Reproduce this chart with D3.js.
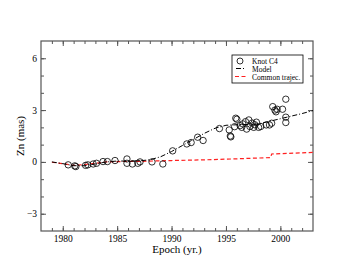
<!DOCTYPE html>
<html>
<head>
<meta charset="utf-8">
<script src="https://cdn.jsdelivr.net/npm/d3@7"></script>
<style>
  body { margin: 0; background: #fff; }
  svg text { font-family: "Liberation Serif", "DejaVu Serif", serif; }
</style>
</head>
<body>
<div id="chart"></div>
<script>
// Knot C4 observations (epoch, Zn in mas)
var knotYears = [1980.5, 1981.1, 1981.2, 1982.1, 1982.3, 1982.8, 1983.1, 1983.7, 1984.1, 1984.8,
  1985.9, 1985.9, 1986.4, 1986.9, 1987.1, 1988.2, 1989.2, 1990.1, 1991.4, 1991.8,
  1992.4, 1992.9, 1994.4, 1995.3, 1995.4, 1995.45, 1995.8, 1995.9, 1996.0, 1996.3,
  1996.45, 1996.55, 1996.8, 1996.9, 1997.1, 1997.2, 1997.4, 1997.55, 1997.65, 1997.8,
  1998.0, 1998.2, 1998.7, 1999.0, 1999.2, 1999.3, 1999.5, 1999.6, 1999.7, 2000.2,
  2000.5, 2000.5, 2000.5];
var knotZn = [-0.17, -0.23, -0.27, -0.2, -0.17, -0.12, -0.08, 0.02, 0.02, 0.08,
  0.17, -0.08, -0.12, -0.08, 0.0, 0.0, -0.12, 0.64, 1.04, 1.12,
  1.43, 1.24, 1.93, 1.85, 1.5, 1.45, 2.04, 2.53, 2.47, 2.1,
  2.0, 2.2, 2.33, 1.9, 2.43, 2.05, 2.25, 2.0, 2.15, 2.3,
  2.0, 2.05, 2.14, 2.14, 2.24, 3.2, 3.0, 2.9, 3.05, 3.05,
  3.63, 2.59, 2.28];

// Model curve
var modelYears = [1979, 1980, 1981, 1982, 1983, 1984, 1985, 1986, 1987, 1988, 1989, 1990,
  1991, 1992, 1993, 1994, 1995, 1996, 1997, 1998, 1999, 2000, 2001, 2002, 2003];
var modelZn = [0.0, -0.1, -0.22, -0.22, -0.12, 0.0, 0.05, 0.05, 0.06, 0.12, 0.3, 0.6,
  0.95, 1.3, 1.65, 1.95, 2.12, 2.15, 2.17, 2.2, 2.35, 2.5, 2.65, 2.8, 2.97];

// Common trajectory
var commonYears = [1979, 1980, 1981, 1982, 1983, 1984, 1985, 1987, 1990, 1993, 1996, 1999.1, 1999.2, 2003];
var commonZn = [-0.02, -0.1, -0.2, -0.15, -0.08, 0.0, 0.02, 0.03, 0.08, 0.12, 0.18, 0.25, 0.46, 0.55];

var xTicks = [1980, 1985, 1990, 1995, 2000];
var yTicks = [-3, 0, 3, 6];

var W = 353, H = 273;
var margin = { top: 41, right: 40, bottom: 42, left: 41 };
var width = W - margin.left - margin.right,
  height = H - margin.top - margin.bottom;

var svg = d3.select("#chart").append("svg")
  .attr("width", W)
  .attr("height", H);
var g = svg.append("g")
  .attr("transform", "translate(" + margin.left + "," + margin.top + ")");

var x = d3.scaleLinear().domain([1978, 2003]).range([0, width]);
var y = d3.scaleLinear().domain([-4, 7]).range([height, 0]);

var axisColor = "#555";

// inward ticks on all four sides (minor every unit)
function tickAxis(axis, minorVals, majorVals, transform, fmt) {
  var minor = g.append("g").attr("transform", transform)
    .call(axis.tickValues(minorVals).tickSize(-3).tickFormat(""));
  var major = g.append("g").attr("transform", transform)
    .call(axis.tickValues(majorVals).tickSize(-5).tickFormat(fmt));
  [minor, major].forEach(function (s) {
    s.select(".domain").remove();
    s.selectAll("line").attr("stroke", axisColor);
  });
  return major;
}

var xMinor = d3.range(1979, 2003, 1), yMinor = d3.range(-3, 7, 1);
var bx = tickAxis(d3.axisBottom(x), xMinor, xTicks, "translate(0," + height + ")", d3.format("d"));
bx.selectAll("text").attr("y", 4).attr("font-size", 9.5).attr("fill", "#000");
tickAxis(d3.axisTop(x), xMinor, xTicks, "translate(0,0)", "");
var ly = tickAxis(d3.axisLeft(y), yMinor, yTicks, "translate(0,0)", d3.format("d"));
ly.selectAll("text").attr("x", -4).attr("font-size", 9.5).attr("fill", "#000");
tickAxis(d3.axisRight(y), yMinor, yTicks, "translate(" + width + ",0)", "");

g.append("rect")
  .attr("width", width).attr("height", height)
  .attr("fill", "none").attr("stroke", axisColor).attr("stroke-width", 1.2);

// axis titles
svg.append("text")
  .attr("x", margin.left + width / 2).attr("y", 253)
  .attr("text-anchor", "middle").attr("font-size", 11)
  .text("Epoch (yr.)");
svg.append("text")
  .attr("transform", "translate(24," + (margin.top + height / 2) + ") rotate(-90)")
  .attr("text-anchor", "middle").attr("font-size", 11)
  .text("Zn (mas)");

var line = d3.line()
  .x(function (d) { return x(d[0]); })
  .y(function (d) { return y(d[1]); });

var plot = g.append("g");
plot.append("path")
  .datum(commonYears.map(function (v, i) { return [v, commonZn[i]]; }))
  .attr("d", line)
  .attr("fill", "none").attr("stroke", "#ff2020").attr("stroke-width", 1.2)
  .attr("stroke-dasharray", "4,2.5");
plot.append("path")
  .datum(modelYears.map(function (v, i) { return [v, modelZn[i]]; }))
  .attr("d", line)
  .attr("fill", "none").attr("stroke", "#000").attr("stroke-width", 1)
  .attr("stroke-dasharray", "5,2,1,2");

plot.selectAll("circle.knot")
  .data(knotYears.map(function (v, i) { return [v, knotZn[i]]; }))
  .enter().append("circle")
  .attr("class", "knot")
  .attr("cx", function (d) { return x(d[0]); })
  .attr("cy", function (d) { return y(d[1]); })
  .attr("r", 3.2)
  .attr("fill", "none").attr("stroke", "#000").attr("stroke-width", 0.8);

// legend
var lg = svg.append("g").attr("transform", "translate(232,55)");
lg.append("rect").attr("width", 71).attr("height", 28)
  .attr("fill", "#fff").attr("stroke", "#000").attr("stroke-width", 0.8);
lg.append("circle").attr("cx", 8).attr("cy", 6).attr("r", 3)
  .attr("fill", "none").attr("stroke", "#000").attr("stroke-width", 0.8);
lg.append("line").attr("x1", 4).attr("x2", 12).attr("y1", 13.5).attr("y2", 13.5)
  .attr("stroke", "#000").attr("stroke-width", 1).attr("stroke-dasharray", "5,2,1,2");
lg.append("line").attr("x1", 3).attr("x2", 16).attr("y1", 21.5).attr("y2", 21.5)
  .attr("stroke", "#ff2020").attr("stroke-width", 1.2).attr("stroke-dasharray", "4,2.5");
var legendText = ["Knot C4", "Model", "Common trajec."];
lg.selectAll("text.lab").data(legendText).enter().append("text")
  .attr("class", "lab")
  .attr("x", 20).attr("y", function (d, i) { return 8.5 + i * 8; })
  .attr("font-size", 7.5)
  .text(function (d) { return d; });
</script>
</body>
</html>
